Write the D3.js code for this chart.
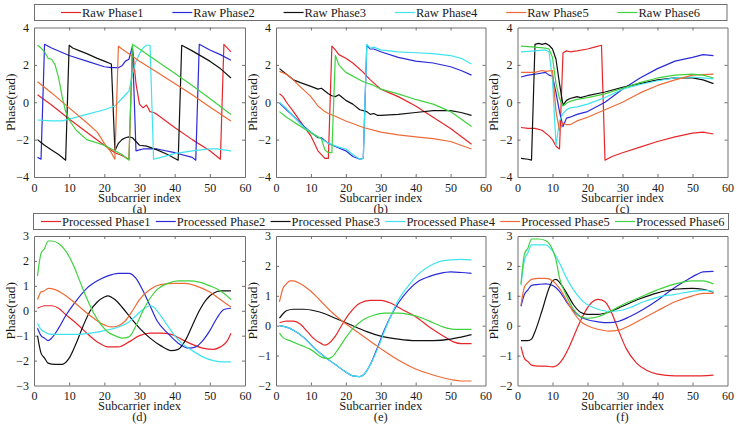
<!DOCTYPE html>
<html>
<head>
<meta charset="utf-8">
<script src="https://cdn.jsdelivr.net/npm/d3@7"></script>
</head>
<body style="margin:0">
<svg id="chart" width="737" height="426"></svg>
<script>
// ---------- data (x = subcarrier index, y = phase in rad) ----------
const xTicks = [0,10,20,30,40,50,60];
const rawYTicks = [-4,-2,0,2,4];
const procYTicksD = [-3,-2,-1,0,1,2,3];
const procYTicksEF = [-2,-1,0,1,2,3];
const seriesColors = ["#e8262a","#2a2ad8","#111111","#3fe3f0","#ee6a36","#3fd23f"];
const rawNames = ["Raw Phase1","Raw Phase2","Raw Phase3","Raw Phase4","Raw Phase5","Raw Phase6"];
const procNames = ["Processed Phase1","Processed Phase2","Processed Phase3","Processed Phase4","Processed Phase5","Processed Phase6"];
const panelLabels = ["(a)","(b)","(c)","(d)","(e)","(f)"];

// (a) raw
const rawA1 = [[1,0.4],[5,-0.15],[10,-0.9],[15,-1.6],[20,-2.3],[23,-2.7],[25,-2.85],[27,-3.05],[28,2.9],[29,1.0],[30,-0.1],[31,-0.3],[32,-0.15],[33,-0.5],[34,-0.55],[35,-0.65],[40,-1.35],[45,-2.0],[50,-2.6],[53,-3.05],[54,3.1],[55,2.9],[56,2.7]];
const rawA2 = [[1,-2.95],[2,-3.05],[3,3.1],[5,2.9],[10,2.5],[15,2.2],[20,1.9],[22,1.85],[24,1.85],[25,1.95],[26,2.2],[27,2.3],[28,3.0],[29,-2.6],[30,-2.55],[31,-2.5],[33,-2.5],[35,-2.5],[40,-2.7],[45,-2.95],[46,-3.1],[47,3.1],[50,2.8],[53,2.55],[56,2.25]];
const rawA3 = [[1,-2.0],[2,-2.15],[3,-2.3],[5,-2.55],[7,-2.8],[9,-3.1],[10,3.05],[11,2.9],[13,2.75],[15,2.6],[18,2.35],[20,2.2],[22,2.05],[23,-2.6],[24,-2.2],[25,-2.0],[26,-1.9],[27,-1.85],[28,-1.9],[29,-2.1],[30,-2.3],[32,-2.35],[35,-2.55],[38,-2.8],[41,-3.1],[42,3.05],[45,2.75],[50,2.2],[53,1.8],[56,1.3]];
const rawA4 = [[1,-0.95],[5,-1.0],[8,-1.0],[10,-0.9],[15,-0.65],[20,-0.4],[23,-0.2],[25,0.2],[26,0.4],[27,0.6],[28,1.5],[29,2.2],[30,2.6],[31,2.9],[32,3.05],[33,3.05],[34,-3.05],[35,-3.0],[40,-2.75],[45,-2.6],[50,-2.5],[52,-2.5],[56,-2.6]];
const rawA5 = [[1,1.1],[5,0.5],[10,-0.3],[15,-1.1],[18,-1.6],[20,-2.2],[22,-2.7],[23,-3.05],[24,3.0],[25,2.85],[27,2.6],[30,2.2],[35,1.6],[40,1.0],[45,0.4],[50,-0.25],[56,-1.0]];
const rawA6 = [[1,3.05],[2,2.9],[3,2.7],[4,2.35],[5,2.3],[6,2.0],[7,1.3],[8,0.3],[9,-0.5],[10,-0.95],[12,-1.5],[15,-2.0],[20,-2.3],[25,-2.8],[27,-3.1],[28,3.1],[30,2.85],[35,2.2],[40,1.55],[45,0.9],[50,0.2],[56,-0.65]];

// (b) raw
const rawB1 = [[1,0.45],[2,0.3],[3,0.0],[5,-0.5],[8,-1.3],[10,-1.8],[11,-2.2],[12,-2.6],[13,-2.8],[14,-3.0],[15,-3.0],[16,3.0],[17,2.8],[18,2.55],[20,2.35],[22,2.1],[25,1.6],[27,1.2],[30,0.7],[35,0.3],[40,-0.2],[45,-0.8],[50,-1.4],[56,-2.25]];
const rawB2 = [[1,-0.05],[3,-0.4],[5,-0.75],[8,-1.3],[10,-1.6],[12,-1.9],[13,-1.9],[15,-2.2],[18,-2.45],[20,-2.6],[22,-2.9],[24,-3.05],[25,-3.0],[26,3.05],[27,2.85],[28,2.85],[30,2.7],[35,2.4],[40,2.2],[45,2.1],[50,1.9],[53,1.7],[56,1.45]];
const rawB3 = [[1,1.8],[3,1.5],[5,1.2],[7,1.05],[10,0.85],[12,0.7],[13,0.75],[15,0.45],[16,0.35],[17,0.3],[18,0.4],[19,0.25],[20,0.1],[22,-0.1],[24,-0.4],[26,-0.5],[27,-0.65],[28,-0.6],[29,-0.7],[30,-0.7],[35,-0.65],[40,-0.55],[45,-0.45],[50,-0.45],[53,-0.55],[56,-0.7]];
const rawB4 = [[1,0.0],[3,-0.35],[5,-0.75],[8,-1.35],[10,-1.6],[12,-1.85],[15,-2.2],[18,-2.4],[20,-2.5],[22,-2.8],[24,-3.05],[25,-3.0],[26,3.1],[27,2.9],[28,2.95],[30,2.8],[35,2.7],[40,2.65],[45,2.6],[50,2.5],[53,2.35],[56,2.05]];
const rawB5 = [[1,1.65],[3,1.5],[5,1.2],[6,1.0],[8,0.65],[10,0.3],[12,-0.2],[14,-0.5],[15,-0.6],[17,-0.75],[20,-1.0],[25,-1.35],[30,-1.6],[35,-1.75],[40,-1.85],[45,-1.95],[50,-2.1],[53,-2.3],[56,-2.5]];
const rawB6 = [[1,-0.5],[3,-0.8],[5,-1.05],[8,-1.4],[10,-1.65],[12,-1.85],[13,-1.95],[14,-2.55],[15,-2.7],[16,-2.7],[17,2.5],[18,2.0],[20,1.6],[25,1.1],[28,0.9],[30,0.7],[35,0.45],[40,0.15],[45,-0.1],[50,-0.5],[56,-1.3]];

// (c) raw
const rawC1 = [[1,-1.35],[3,-1.4],[5,-1.4],[7,-1.5],[9,-1.8],[10,-2.0],[11,-2.35],[12,-2.5],[13,2.65],[14,2.75],[15,2.7],[17,2.75],[20,2.85],[22,2.95],[24,3.05],[25,-3.1],[27,-2.9],[30,-2.7],[35,-2.4],[40,-2.1],[45,-1.85],[50,-1.65],[53,-1.6],[56,-1.7]];
const rawC2 = [[1,1.35],[3,1.45],[5,1.5],[8,1.6],[9,1.45],[10,1.4],[11,0.5],[12,-0.5],[13,-1.3],[14,-0.85],[15,-0.8],[17,-0.65],[20,-0.5],[25,0.0],[30,0.7],[35,1.3],[40,1.8],[45,2.2],[50,2.4],[53,2.55],[56,2.5]];
const rawC3 = [[1,-3.0],[3,-3.05],[4,-3.1],[5,3.1],[6,3.15],[7,3.1],[8,3.15],[9,3.05],[10,2.85],[11,2.3],[12,1.0],[13,-0.15],[14,0.1],[15,0.2],[16,0.25],[17,0.3],[18,0.25],[20,0.35],[25,0.55],[30,0.8],[35,1.0],[40,1.2],[45,1.3],[50,1.3],[53,1.2],[56,1.0]];
const rawC4 = [[1,2.7],[5,2.75],[8,2.8],[9,2.7],[10,1.2],[11,-2.3],[12,-1.0],[13,-0.6],[14,-0.4],[15,-0.3],[17,-0.25],[20,-0.1],[25,0.25],[30,0.7],[35,0.95],[40,1.15],[45,1.3],[50,1.35],[56,1.25]];
const rawC5 = [[1,1.6],[5,1.6],[7,1.7],[8,1.65],[10,1.7],[11,-0.5],[12,-1.5],[13,-1.1],[14,-1.2],[15,-1.2],[17,-1.0],[20,-0.8],[25,-0.4],[30,0.0],[35,0.5],[40,0.9],[45,1.2],[50,1.45],[56,1.5]];
const rawC6 = [[1,3.0],[5,2.95],[8,2.9],[9,2.85],[10,2.4],[11,1.0],[12,0.2],[13,-0.2],[14,-0.05],[15,0.05],[17,0.15],[20,0.25],[25,0.45],[30,0.75],[35,1.05],[40,1.3],[45,1.45],[50,1.5],[53,1.45],[56,1.3]];

// (d) processed
const procD1 = [[1,0.1],[3,0.2],[5,0.2],[7,0.1],[9,-0.15],[12,-0.5],[15,-0.9],[18,-1.25],[21,-1.45],[24,-1.45],[27,-1.25],[30,-1.0],[33,-0.9],[36,-0.9],[39,-0.95],[42,-1.15],[45,-1.35],[48,-1.5],[51,-1.55],[53,-1.45],[55,-1.2],[56,-0.9]];
const procD2 = [[1,-0.7],[2,-1.0],[3,-1.1],[4,-1.2],[5,-1.1],[7,-0.7],[9,-0.2],[12,0.4],[15,0.9],[18,1.2],[21,1.4],[24,1.5],[27,1.5],[29,1.3],[31,0.8],[33,0.2],[35,-0.4],[38,-0.9],[41,-1.3],[44,-1.5],[46,-1.45],[48,-1.2],[50,-0.8],[52,-0.3],[54,0.05],[56,0.1]];
const procD3 = [[1,-1.0],[2,-1.7],[3,-1.9],[4,-2.1],[6,-2.15],[8,-2.15],[10,-1.9],[12,-1.3],[14,-0.6],[16,0.0],[18,0.35],[20,0.55],[21,0.6],[23,0.45],[25,0.15],[27,-0.2],[30,-0.7],[33,-1.1],[36,-1.4],[39,-1.6],[41,-1.55],[43,-1.2],[45,-0.6],[47,0.0],[49,0.45],[51,0.7],[53,0.8],[56,0.8]];
const procD4 = [[1,-0.5],[2,-0.75],[3,-0.85],[5,-0.95],[8,-0.95],[12,-0.95],[16,-0.9],[20,-0.8],[24,-0.65],[27,-0.45],[29,-0.2],[31,0.05],[33,0.2],[34,0.15],[36,-0.2],[38,-0.6],[40,-1.0],[42,-1.3],[45,-1.6],[48,-1.85],[51,-2.0],[54,-2.05],[56,-2.05]];
const procD5 = [[1,0.45],[2,0.75],[3,0.8],[4,0.9],[6,0.85],[8,0.7],[10,0.5],[13,0.15],[16,-0.2],[19,-0.5],[22,-0.65],[24,-0.6],[26,-0.4],[28,0.0],[30,0.45],[33,0.85],[36,1.05],[40,1.1],[43,1.1],[46,1.0],[50,0.75],[53,0.45],[56,0.15]];
const procD6 = [[1,1.4],[2,2.3],[3,2.5],[4,2.8],[5,2.8],[7,2.7],[9,2.4],[11,1.9],[13,1.2],[15,0.5],[17,-0.1],[19,-0.55],[21,-0.85],[23,-1.0],[25,-1.1],[27,-1.05],[29,-0.6],[31,0.0],[33,0.5],[35,0.85],[38,1.1],[41,1.2],[44,1.2],[47,1.15],[50,1.0],[53,0.8],[56,0.45]];

// (e) processed
const procE1 = [[1,0.1],[3,0.15],[5,0.15],[7,0.05],[9,-0.2],[11,-0.45],[13,-0.6],[14,-0.65],[15,-0.6],[17,-0.35],[19,0.05],[21,0.4],[24,0.75],[27,0.85],[30,0.85],[33,0.75],[36,0.55],[40,0.3],[44,-0.05],[48,-0.35],[51,-0.55],[53,-0.6],[56,-0.6]];
const procE2 = [[1,0.0],[3,-0.05],[5,-0.15],[8,-0.4],[11,-0.75],[14,-1.05],[17,-1.3],[20,-1.55],[22,-1.68],[24,-1.7],[25,-1.65],[27,-1.3],[29,-0.75],[31,-0.15],[33,0.35],[35,0.75],[38,1.2],[41,1.5],[44,1.65],[47,1.75],[50,1.8],[53,1.78],[56,1.75]];
const procE3 = [[1,0.25],[2,0.4],[3,0.5],[5,0.55],[8,0.55],[11,0.5],[14,0.4],[17,0.25],[20,0.1],[23,-0.05],[26,-0.2],[30,-0.35],[35,-0.45],[40,-0.5],[45,-0.5],[50,-0.45],[53,-0.38],[56,-0.3]];
const procE4 = [[1,0.0],[3,-0.05],[5,-0.15],[8,-0.4],[11,-0.75],[14,-1.05],[17,-1.3],[20,-1.55],[22,-1.68],[24,-1.7],[25,-1.65],[27,-1.3],[29,-0.8],[31,-0.2],[33,0.35],[35,0.85],[38,1.35],[41,1.75],[44,2.0],[47,2.15],[50,2.2],[53,2.22],[56,2.2]];
const procE5 = [[1,0.8],[2,1.25],[3,1.4],[4,1.5],[5,1.5],[7,1.4],[10,1.15],[13,0.8],[16,0.45],[19,0.15],[22,-0.1],[25,-0.35],[28,-0.6],[31,-0.85],[35,-1.15],[40,-1.45],[45,-1.65],[50,-1.8],[53,-1.85],[56,-1.85]];
const procE6 = [[1,-0.25],[2,-0.4],[4,-0.5],[7,-0.65],[10,-0.8],[13,-1.05],[15,-1.1],[16,-1.05],[18,-0.75],[20,-0.4],[22,-0.1],[25,0.2],[28,0.35],[31,0.42],[35,0.42],[38,0.38],[42,0.25],[45,0.1],[48,-0.05],[51,-0.12],[54,-0.12],[56,-0.12]];

// (f) processed
const procF1 = [[1,-0.7],[2,-1.1],[3,-1.2],[4,-1.32],[6,-1.35],[8,-1.35],[10,-1.38],[11,-1.35],[13,-1.1],[15,-0.65],[17,-0.1],[19,0.4],[21,0.75],[23,0.88],[25,0.8],[27,0.4],[29,-0.2],[31,-0.75],[34,-1.25],[37,-1.5],[40,-1.62],[45,-1.68],[50,-1.68],[56,-1.65]];
const procF2 = [[1,0.65],[2,1.05],[3,1.2],[4,1.35],[6,1.38],[8,1.4],[10,1.35],[12,1.15],[14,0.8],[16,0.5],[18,0.3],[20,0.2],[23,0.13],[26,0.1],[29,0.15],[32,0.3],[36,0.55],[40,0.85],[44,1.2],[48,1.5],[51,1.7],[53,1.8],[56,1.82]];
const procF3 = [[1,-0.5],[3,-0.5],[4,-0.45],[5,-0.2],[7,0.5],[9,1.25],[10,1.5],[11,1.55],[12,1.45],[14,1.1],[16,0.7],[18,0.45],[20,0.38],[23,0.38],[26,0.45],[30,0.65],[35,0.9],[40,1.1],[45,1.22],[50,1.25],[53,1.22],[56,1.12]];
const procF4 = [[1,1.35],[2,2.2],[3,2.45],[4,2.7],[6,2.7],[8,2.7],[10,2.5],[12,2.1],[14,1.6],[16,1.2],[18,0.9],[20,0.7],[23,0.55],[26,0.48],[29,0.5],[32,0.6],[36,0.8],[40,0.95],[45,1.05],[50,1.15],[53,1.18],[56,1.15]];
const procF5 = [[1,0.7],[2,1.3],[3,1.45],[4,1.55],[6,1.58],[8,1.58],[10,1.5],[12,1.25],[14,0.85],[16,0.45],[18,0.15],[20,0.0],[23,-0.12],[26,-0.18],[29,-0.15],[32,0.0],[36,0.25],[40,0.5],[45,0.8],[50,1.0],[53,1.08],[56,1.08]];
const procF6 = [[1,1.4],[2,2.4],[3,2.6],[4,2.9],[6,2.9],[8,2.85],[10,2.55],[11,2.2],[12,1.6],[14,1.0],[16,0.55],[18,0.3],[20,0.25],[23,0.3],[26,0.45],[30,0.7],[35,0.95],[40,1.2],[45,1.4],[50,1.5],[53,1.5],[56,1.4]];

// ---------- layout ----------
const FONT = "Liberation Serif";
const svg = d3.select("#chart");
const frameColor = "#6f6f6f";
const textColor = "#1a1a1a";
const topRow = {y0: 27.5, y1: 177};
const botRow = {y0: 236, y1: 385.5};
const colX = [[34,245],[276,485.5],[517.5,727.5]];

const panels = [
  {series:[rawA1,rawA2,rawA3,rawA4,rawA5,rawA6], row:topRow, col:0, yDom:[-4,4], yTicks:rawYTicks, smooth:false, label:panelLabels[0]},
  {series:[rawB1,rawB2,rawB3,rawB4,rawB5,rawB6], row:topRow, col:1, yDom:[-4,4], yTicks:rawYTicks, smooth:false, label:panelLabels[1]},
  {series:[rawC1,rawC2,rawC3,rawC4,rawC5,rawC6], row:topRow, col:2, yDom:[-4,4], yTicks:rawYTicks, smooth:false, label:panelLabels[2]},
  {series:[procD1,procD2,procD3,procD4,procD5,procD6], row:botRow, col:0, yDom:[-3,3], yTicks:procYTicksD, smooth:true, label:panelLabels[3]},
  {series:[procE1,procE2,procE3,procE4,procE5,procE6], row:botRow, col:1, yDom:[-2,3], yTicks:procYTicksEF, smooth:true, label:panelLabels[4]},
  {series:[procF1,procF2,procF3,procF4,procF5,procF6], row:botRow, col:2, yDom:[-2,3], yTicks:procYTicksEF, smooth:true, label:panelLabels[5]}
];

// plain text helper (attributes only)
function addText(parent, x, y, str, size, anchor){
  return parent.append("text").attr("x", x).attr("y", y)
    .attr("text-anchor", anchor || "start").attr("font-size", size)
    .attr("font-family", FONT).attr("fill", textColor).text(str);
}

function styleAxis(g){
  g.attr("font-family", FONT).attr("font-size", 12);
  g.selectAll("path.domain").attr("stroke", frameColor).attr("stroke-width",1);
  g.selectAll(".tick line").attr("stroke", frameColor).attr("stroke-width",1);
  g.selectAll(".tick text").attr("fill", textColor).attr("font-size", 12).attr("font-family", FONT);
}

panels.forEach(p => {
  const [xl, xr] = colX[p.col];
  const x = d3.scaleLinear().domain([0,60]).range([xl, xr]);
  const y = d3.scaleLinear().domain(p.yDom).range([p.row.y1, p.row.y0]);
  const g = svg.append("g");

  const line = d3.line().x(d => x(d[0])).y(d => y(d[1]))
    .curve(p.smooth ? d3.curveMonotoneX : d3.curveLinear);
  p.series.forEach((s, i) => {
    g.append("path").datum(s).attr("d", line).attr("fill","none")
      .attr("stroke", seriesColors[i]).attr("stroke-width", 1.2)
      .attr("stroke-linejoin","round");
  });

  const gb = g.append("g").attr("transform",`translate(0,${p.row.y1})`)
    .call(d3.axisBottom(x).tickValues(xTicks).tickSizeInner(-3).tickSizeOuter(0).tickPadding(6));
  styleAxis(gb);
  const gt = g.append("g").attr("transform",`translate(0,${p.row.y0})`)
    .call(d3.axisTop(x).tickValues(xTicks).tickSizeInner(-3).tickSizeOuter(0).tickFormat(""));
  styleAxis(gt);
  const gl = g.append("g").attr("transform",`translate(${xl},0)`)
    .call(d3.axisLeft(y).tickValues(p.yTicks).tickSizeInner(-3).tickSizeOuter(0).tickPadding(5).tickFormat(d3.format("d")));
  styleAxis(gl);
  const gr = g.append("g").attr("transform",`translate(${xr},0)`)
    .call(d3.axisRight(y).tickValues(p.yTicks).tickSizeInner(-3).tickSizeOuter(0).tickFormat(""));
  styleAxis(gr);

  [gb, gt].forEach(a => a.selectAll(".tick").filter(d => d === 0 || d === 60).select("line").remove());
  [gl, gr].forEach(a => a.selectAll(".tick").filter(d => d === p.yDom[0] || d === p.yDom[1]).select("line").remove());

  const cx = (xl + xr) / 2;
  const base = p.row.y1;
  addText(svg, cx, base + 24.5, "Subcarrier index", 12.5, "middle");
  addText(svg, cx, base + 35.5, p.label, 12.5, "middle");
  const ly = (p.row.y0 + p.row.y1) / 2;
  addText(svg, 0, 0, "Phase(rad)", 13.5, "middle")
    .attr("transform",`translate(${xl - 19.5},${ly}) rotate(-90)`);
});

// ---------- legends ----------
function legend(names, box, starts){
  svg.append("rect").attr("x", box.x).attr("y", box.y).attr("width", box.w).attr("height", box.h)
    .attr("fill","#fff").attr("stroke", frameColor).attr("stroke-width",1);
  const cy = box.y + box.h / 2;
  names.forEach((n, i) => {
    svg.append("line").attr("x1", starts[i]).attr("x2", starts[i] + 20).attr("y1", cy).attr("y2", cy)
      .attr("stroke", seriesColors[i]).attr("stroke-width", 1.2);
    addText(svg, starts[i] + 21, cy + 4.2, n, 12.5, "start");
  });
}
legend(rawNames, {x:34.5, y:4.5, w:692.5, h:16}, [61,172.3,283.6,394.9,506.2,617.5]);
legend(procNames, {x:33.5, y:213.5, w:695, h:16}, [41,155.8,270.6,385.4,500.2,615]);
</script>
</body>
</html>
